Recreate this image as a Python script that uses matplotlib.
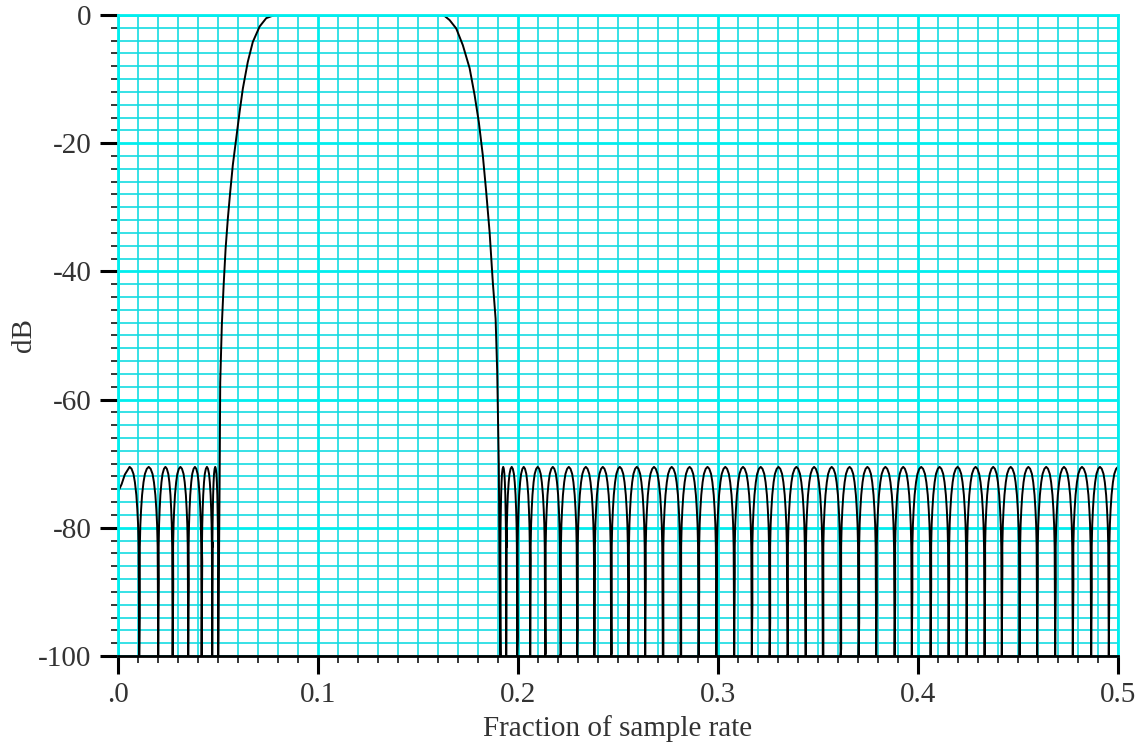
import numpy as np
import matplotlib
matplotlib.use("Agg")
import matplotlib.pyplot as plt
from matplotlib.ticker import MultipleLocator

plt.rcParams['font.family'] = ['Liberation Serif', 'DejaVu Serif']

# top of the stopband ripple (dB)
stop_peak_db = -70.5

# shape of one ripple lobe:
# distance from the lobe centre (fraction of half width) and dB under the peak
lobe_u = [0.0, 0.2, 0.4, 0.55, 0.7, 0.8, 0.88, 0.94]
lobe_drop = [0.0, 0.3, 1.1, 2.4, 4.4, 6.6, 9.0, 12.5]

# left stopband
first_lobe_x = [0.0, 0.0018, 0.0034, 0.0058]
first_lobe_db = [-74.4, -73.2, -71.7, -70.5]
left_nulls = [0.0106, 0.0201, 0.0273, 0.0351, 0.0418, 0.0471, 0.0501]
left_depths = [-93.8, -88.5, -89.3, -88.8, -85.4, -82.3]

# transition bands and passband
rise_x = [0.0508, 0.0511, 0.0519, 0.0528, 0.0538, 0.0549, 0.0561, 0.0574,
          0.0591, 0.0608, 0.0624, 0.0649, 0.0674, 0.0708, 0.0741, 0.0783]
rise_db = [-72.9, -57.3, -48.4, -42.2, -36.4, -31.8, -27.6, -23.4,
           -19.3, -15.1, -11.5, -7.3, -4.2, -1.8, -0.5, 0.0]
fall_x = [0.1627, 0.1658, 0.1691, 0.1724, 0.1758, 0.1783, 0.1804, 0.1824,
          0.1841, 0.1858, 0.1874, 0.1888, 0.1896, 0.1904]
fall_db = [0.0, -0.8, -2.1, -4.7, -8.3, -12.5, -16.7, -21.9,
           -27.6, -33.9, -41.7, -47.4, -55.7, -70.3]

# right stopband
right_nulls = [0.1911, 0.1941, 0.1996, 0.2061, 0.2136, 0.2212, 0.2296, 0.2382,
               0.2466, 0.2552, 0.2636, 0.2724, 0.2813, 0.2903, 0.2992, 0.3081,
               0.3169, 0.3258, 0.3347, 0.3437, 0.3524, 0.3613, 0.3703, 0.3791,
               0.3883, 0.3969, 0.4063, 0.4153, 0.4243, 0.4333, 0.4419, 0.4508,
               0.4596, 0.4686, 0.4774, 0.4866, 0.4954]
right_depths = [-100, -80.2, -97, -84.9, -99.6, -99.6, -95.6, -86,
                -99.6, -89.5, -88, -100, -100, -90, -87.2, -87,
                -92, -94.7, -99.7, -100, -100, -98.9, -94.8, -91.7,
                -91.1, -89.5, -89, -88, -87.3, -87.2, -86.4, -87.5,
                -87.8, -88.5, -89, -89.3, -89.3]
x_end = 0.5

x_ticks = [0.0, 0.1, 0.2, 0.3, 0.4, 0.5]
x_labels = ['.0', '0.1', '0.2', '0.3', '0.4', '0.5']
y_ticks = [0, -20, -40, -60, -80, -100]
y_labels = ['0', '-20', '-40', '-60', '-80', '-100']

floor_db = -100
u = np.array(lobe_u)
drop = np.array(lobe_drop)
eps = 0.0003


def lobe(a, b):
    mid, hw = (a + b) / 2, (b - a) / 2
    x = np.r_[mid - u[::-1] * hw, mid + u[1:] * hw]
    y = np.r_[stop_peak_db - drop[::-1], stop_peak_db - drop[1:]]
    return list(x), list(y)


def stopband(nulls, depths):
    xs, ys = [], []
    for i, n in enumerate(nulls):
        xs.append(n)
        ys.append(floor_db)
        if i < len(depths):
            xs.append(n + eps)
            ys.append(depths[i])
        if i < len(nulls) - 1:
            lx, ly = lobe(n, nulls[i + 1])
            xs += lx
            ys += ly
    return xs, ys


# build the curve
xs = list(first_lobe_x)
ys = list(first_lobe_db)
hw = left_nulls[0] - first_lobe_x[-1]
xs += list(first_lobe_x[-1] + u[1:] * hw)
ys += list(stop_peak_db - drop[1:])
sx, sy = stopband(left_nulls, left_depths)
xs += sx
ys += sy
xs += rise_x + fall_x
ys += rise_db + fall_db
sx, sy = stopband(right_nulls, right_depths)
xs += sx
ys += sy
hw = x_end - right_nulls[-1]
xs += list(x_end - u[::-1] * hw)
ys += list(stop_peak_db - drop[::-1])

fig = plt.figure(figsize=(11.47, 7.45), dpi=100)
ax = fig.add_axes([0.1029, 0.1195, 0.8718, 0.8604])

ax.plot(xs, ys, color='black', lw=1.4)

ax.set_xlim(0, 0.5)
ax.set_ylim(-100, 0)
ax.set_xticks(x_ticks)
ax.set_xticklabels(x_labels)
ax.set_yticks(y_ticks)
ax.set_yticklabels(y_labels)
ax.xaxis.set_minor_locator(MultipleLocator(0.01))
ax.yaxis.set_minor_locator(MultipleLocator(2))

ax.tick_params(which='major', length=13, width=2.2, direction='out',
               color='black', labelsize=21, labelcolor='#333333', pad=6)
ax.tick_params(which='minor', length=5, width=1.1, direction='out', color='black')

ax.grid(which='major', color='#00eeee', lw=2.0)
ax.grid(which='minor', color='#14dbe2', lw=1.2)
ax.set_axisbelow(True)

for side in ['left', 'top', 'right']:
    ax.spines[side].set_color('#00eeee')
    ax.spines[side].set_linewidth(2.0)
ax.spines['bottom'].set_color('black')
ax.spines['bottom'].set_linewidth(2.0)

ax.set_xlabel('Fraction of sample rate', fontsize=21, color='#333333', labelpad=5)
ax.set_ylabel('dB', fontsize=21, color='#333333', labelpad=1)

fig.savefig('out.png', dpi=100)
